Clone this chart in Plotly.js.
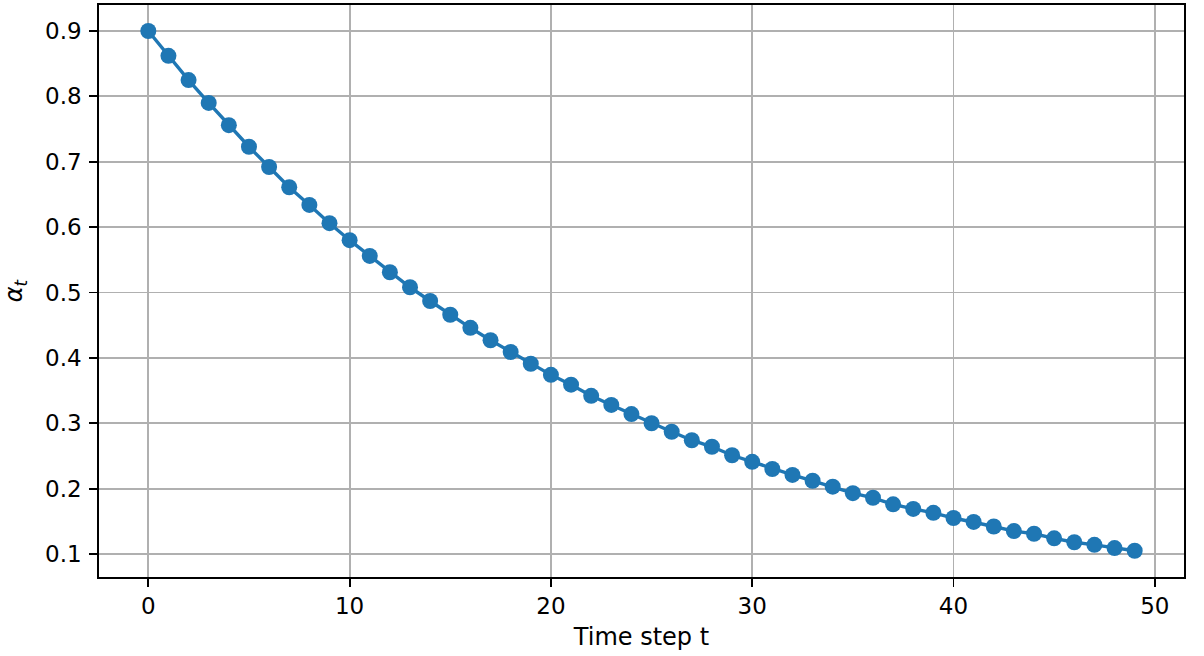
<!DOCTYPE html>
<html>
<head>
<meta charset="utf-8">
<script src="https://cdn.plot.ly/plotly-3.0.1.min.js"></script>
<style>html,body{margin:0;padding:0;background:#fff;}#chart{width:1204px;height:656px;}</style>
</head>
<body>
<div id="chart"></div>
<script>
const timeSteps = [0,1,2,3,4,5,6,7,8,9,10,11,12,13,14,15,16,17,18,19,20,21,22,23,24,25,26,27,28,29,30,31,32,33,34,35,36,37,38,39,40,41,42,43,44,45,46,47,48,49];
const alphaValues = [0.900,0.862,0.825,0.790,0.756,0.723,0.692,0.661,0.634,0.606,
  0.580,0.556,0.531,0.508,0.487,0.466,0.446,0.427,0.409,0.391,
  0.374,0.359,0.342,0.328,0.314,0.300,0.287,0.274,0.264,0.251,
  0.241,0.230,0.221,0.212,0.203,0.193,0.186,0.176,0.169,0.163,
  0.155,0.149,0.142,0.135,0.131,0.124,0.118,0.114,0.109,0.105];
const xTicks = [0,10,20,30,40,50];
const yTicks = [0.1,0.2,0.3,0.4,0.5,0.6,0.7,0.8,0.9];

function mkFont(s) { return {family: 'DejaVu Sans, sans-serif', size: s, color: '#000'}; }

const trace = {
  x: timeSteps, y: alphaValues, type: 'scatter', mode: 'lines+markers',
  line: {color: '#1f77b4', width: 3.4},
  marker: {color: '#1f77b4', size: 16},
  hoverinfo: 'x+y'
};
function axisCommon() {
  return {
    showline: true, linecolor: '#000', linewidth: 1.8, mirror: true,
    ticks: 'outside', ticklen: 8, tickwidth: 1.8, tickcolor: '#000',
    showgrid: true, gridcolor: '#b0b0b0', gridwidth: 1.8, zeroline: false,
    tickfont: mkFont(23)
  };
}
const layout = {
  width: 1204, height: 656,
  margin: {l: 99, r: 20, t: 5, b: 79},
  paper_bgcolor: '#fff', plot_bgcolor: '#fff',
  showlegend: false, font: mkFont(23),
  xaxis: Object.assign(axisCommon(), {
    range: [-2.45, 51.45], tickmode: 'array', tickvals: xTicks,
    ticktext: xTicks.map(String),
    title: {text: 'Time step t', font: mkFont(24), standoff: 10}
  }),
  yaxis: Object.assign(axisCommon(), {
    range: [0.0648, 0.9398], tickmode: 'array', tickvals: yTicks,
    ticktext: yTicks.map(v => v.toFixed(1)),
    ticklabelstandoff: 3,
    title: {text: '<i>α</i><sub><i>t</i></sub>', font: mkFont(24), standoff: 16}
  })
};
Plotly.newPlot('chart', [trace], layout, {staticPlot: true, displayModeBar: false});
</script>
</body>
</html>
